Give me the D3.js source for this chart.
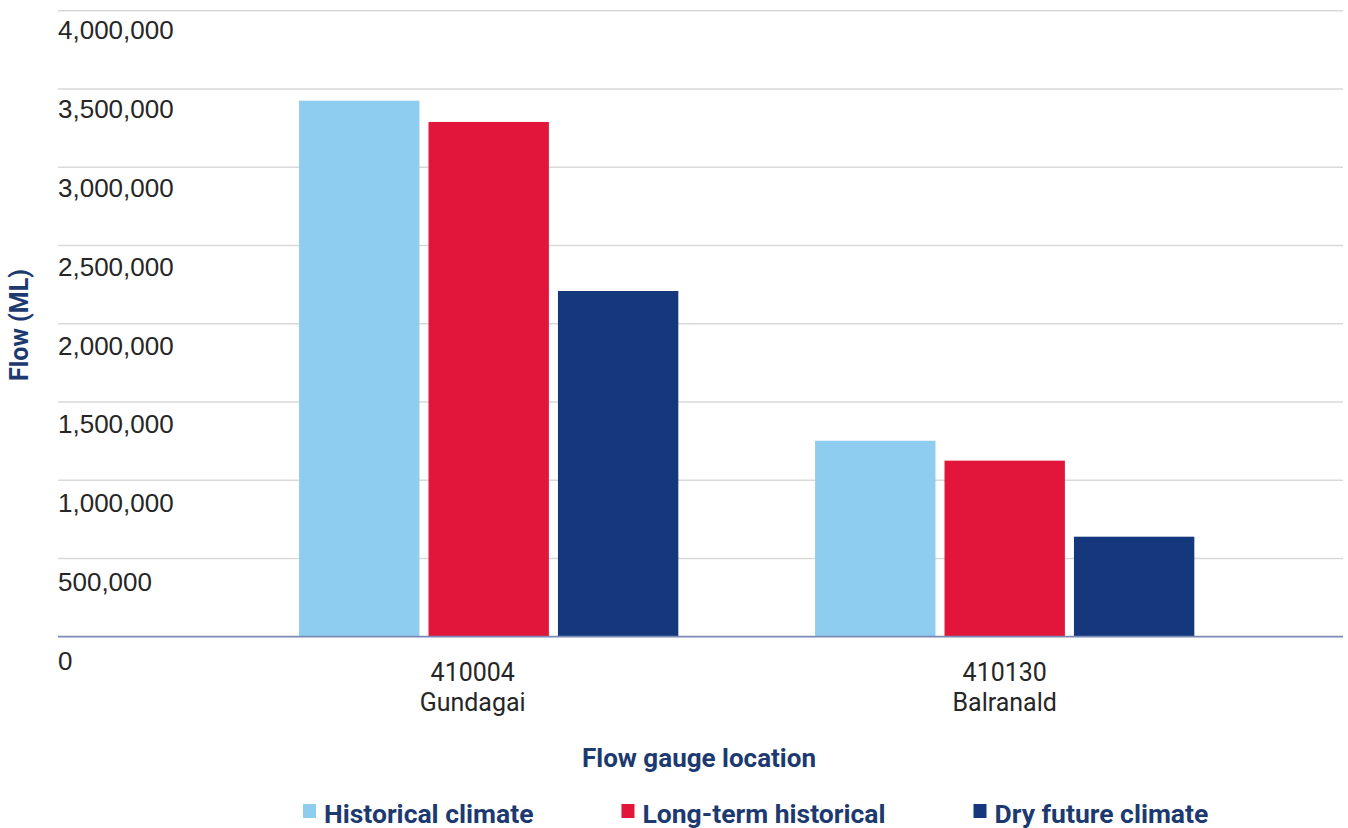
<!DOCTYPE html>
<html>
<head>
<meta charset="utf-8">
<script src="https://cdn.jsdelivr.net/npm/d3@7"></script>
<style>
  html, body { margin: 0; padding: 0; background: #ffffff; }
  svg { display: block; }
</style>
</head>
<body>
<svg id="chart" width="1348" height="828"></svg>
<script>
// Annual flow at each gauge under three climate scenarios
const categories = ["410004|Gundagai", "410130|Balranald"];
const seriesNames = ["Historical climate", "Long-term historical", "Dry future climate"];
const historical = [3425000, 1252000];
const longTerm = [3289000, 1125000];
const dryFuture = [2209000, 639000];
const yTicks = [0, 500000, 1000000, 1500000, 2000000, 2500000, 3000000, 3500000, 4000000];

const seriesValues = [historical, longTerm, dryFuture];
const colors = ["#8fcdf0", "#e2163a", "#15387c"];
const navy = "#1d3a70";
const sans = "Roboto, 'Noto Sans', sans-serif";

const svg = d3.select("#chart");

const y = d3.scaleLinear().domain([0, 4000000]).range([636.7, 10.7]);
const labelY = d3.scaleLinear().domain([0, 4000000]).range([670, 39.3]);

const x0 = d3.scaleBand().domain(categories).range([230.7, 1262.7])
  .paddingInner(0.265).paddingOuter(0.1325);
const x1 = d3.scaleBand().domain(d3.range(seriesNames.length))
  .range([0, x0.bandwidth()]).paddingInner(0.07);

// squeeze text horizontally to mimic a narrower face
function condense(sel, factor) {
  sel.each(function () {
    const w = this.getComputedTextLength();
    d3.select(this).attr("textLength", w * factor).attr("lengthAdjust", "spacingAndGlyphs");
  });
}

// gridlines
svg.append("g").selectAll("line")
  .data(yTicks.filter(d => d > 0))
  .join("line")
  .attr("x1", 58).attr("x2", 1343)
  .attr("y1", d => y(d)).attr("y2", d => y(d))
  .attr("stroke", "#d9d9d9").attr("stroke-width", 1.5);

// y tick labels, sitting below their gridlines
svg.append("g").selectAll("text")
  .data(yTicks)
  .join("text")
  .attr("x", 58)
  .attr("y", d => labelY(d))
  .attr("font-family", "'Liberation Sans', Arial, sans-serif")
  .attr("font-size", 26)
  .attr("fill", "#262626")
  .text(d => d3.format(",")(d));

// bars
const groups = svg.append("g").selectAll("g")
  .data(categories)
  .join("g")
  .attr("transform", d => `translate(${x0(d)},0)`);

groups.selectAll("rect")
  .data((c, ci) => seriesValues.map((vals, si) => ({ si, v: vals[ci] })))
  .join("rect")
  .attr("x", d => x1(d.si))
  .attr("width", x1.bandwidth())
  .attr("y", d => y(d.v))
  .attr("height", d => y(0) - y(d.v))
  .attr("fill", d => colors[d.si]);

// baseline
svg.append("line")
  .attr("x1", 58).attr("x2", 1343)
  .attr("y1", y(0)).attr("y2", y(0))
  .attr("stroke", "#7a8ab4").attr("stroke-width", 1.8);

// category labels: gauge number over place name
const catLabels = svg.append("g").selectAll("g")
  .data(categories)
  .join("g");
catLabels.each(function (d, i) {
  const parts = d.split("|");
  const cx = x0(d) + x0.bandwidth() / 2 - (i === 0 ? 16 : 0);
  const g = d3.select(this);
  parts.forEach((p, li) => {
    g.append("text")
      .attr("x", cx).attr("y", 681 + li * 30)
      .attr("text-anchor", "middle")
      .attr("font-family", sans)
      .attr("font-size", 26)
      .attr("fill", "#262626")
      .text(p)
      .call(condense, 0.96);
  });
});

// axis titles
svg.append("text")
  .attr("x", 699).attr("y", 767)
  .attr("text-anchor", "middle")
  .attr("font-family", sans)
  .attr("font-weight", "bold")
  .attr("font-size", 26)
  .attr("fill", navy)
  .text("Flow gauge location");

svg.append("text")
  .attr("transform", "translate(28,325) rotate(-90)")
  .attr("text-anchor", "middle")
  .attr("font-family", sans)
  .attr("font-weight", "bold")
  .attr("font-size", 25)
  .attr("fill", navy)
  .text("Flow (ML)");

// legend
const legend = svg.append("g");
let lx = 303;
seriesNames.forEach((name, i) => {
  legend.append("rect")
    .attr("x", lx).attr("y", 804)
    .attr("width", 13).attr("height", 14)
    .attr("fill", colors[i]);
  const t = legend.append("text")
    .attr("x", lx + 21).attr("y", 823)
    .attr("font-family", sans)
    .attr("font-weight", "bold")
    .attr("font-size", 26.5)
    .attr("fill", navy)
    .text(name);
  lx += 21 + t.node().getComputedTextLength() + 88;
});
</script>
</body>
</html>
